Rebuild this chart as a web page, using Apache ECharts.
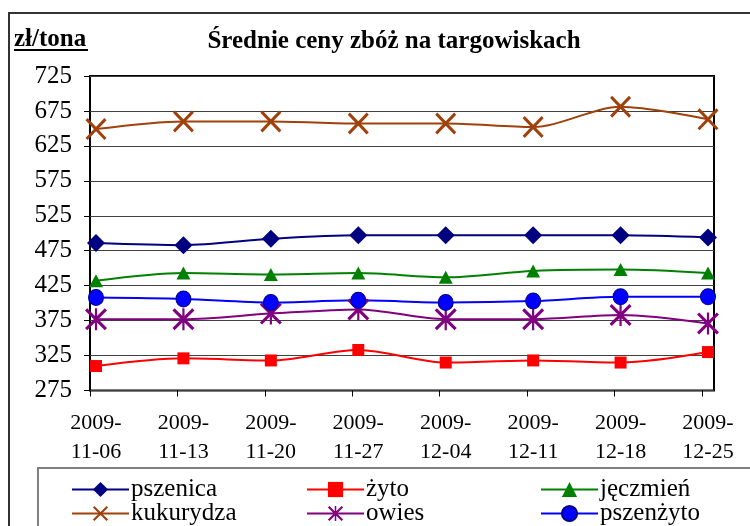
<!DOCTYPE html>
<html><head><meta charset="utf-8">
<script src="https://cdn.jsdelivr.net/npm/echarts@6/dist/echarts.min.js"></script>
<style>html,body{margin:0;padding:0;background:#fff}#c{width:750px;height:526px}</style>
</head><body><div id="c"></div>
<script>
const categories = ['2009-\n11-06','2009-\n11-13','2009-\n11-20','2009-\n11-27','2009-\n12-04','2009-\n12-11','2009-\n12-18','2009-\n12-25'];
const pszenica  = [486, 483, 492, 497, 497, 497, 497, 494];
const zyto      = [310, 321, 318, 333, 315, 318, 315, 330];
const jeczmien  = [432, 443, 441, 443, 437, 446, 448, 443];
const kukurydza = [649, 660, 660, 657, 657, 652, 681, 663];
const owies     = [377, 377, 385, 391, 377, 377, 383, 371];
const pszenzyto = [408, 406, 401, 404, 401, 403, 409, 409];
const yMin = 275, yMax = 725, yStep = 50;
const titleText = 'Średnie ceny zbóż na targowiskach';
const unitText = 'zł/tona';

const FONT = "'Liberation Serif', 'Times New Roman', serif";
const X_SYM = 'path://M0,1L1,0L10,9L9,10Z M9,0L10,1L1,10L0,9Z';
const STAR_SYM = 'path://M0,1L1,0L10,9L9,10Z M9,0L10,1L1,10L0,9Z M4.5,0L5.5,0L5.5,10L4.5,10Z';

const chart = echarts.init(document.getElementById('c'), null, {renderer:'canvas'});
const G = {top: 76, height: 314.5};
function mk(name, data, color, symbol, size, border) {
  return {
    name, type: 'line', data, xAxisIndex: 2, yAxisIndex: 2,
    smooth: 0.3, symbol, symbolSize: size, showSymbol: true,
    lineStyle: {color, width: 2},
    itemStyle: {color, borderColor: border || color, borderWidth: border ? 1 : 0, opacity: 1},
    emphasis: {disabled: true}, z: 5
  };
}
const legendBase = {
  orient: 'vertical', itemWidth: 57, itemHeight: 19, itemGap: -1, height: 100,
  textStyle: {fontFamily: FONT, fontSize: 25, color: '#000', lineHeight: 19, padding: [0,0,0,-3]},
  selectedMode: false, padding: 0
};
chart.setOption({
  animation: false,
  backgroundColor: '#fff',
  grid: [
    {left: 90, width: 624, top: G.top, height: G.height, show: true, borderColor: '#000', borderWidth: 2, backgroundColor: 'transparent'},
    {left: 90, width: 612, top: G.top, height: G.height},
    {left: 96, width: 612, top: G.top, height: G.height}
  ],
  xAxis: [
    {gridIndex: 0, type: 'category', data: categories, show: false},
    {gridIndex: 1, type: 'category', data: categories, boundaryGap: false,
     axisLine: {show: false}, axisTick: {show: true, length: 6, lineStyle: {color: '#000', width: 1}},
     axisLabel: {show: false}, splitLine: {show: false}},
    {gridIndex: 2, type: 'category', data: categories, boundaryGap: false,
     axisLine: {show: false}, axisTick: {show: false}, splitLine: {show: false},
     axisLabel: {fontFamily: FONT, fontSize: 22, color: '#000', lineHeight: 29, margin: 18, interval: 0}}
  ],
  yAxis: [
    {gridIndex: 0, type: 'value', min: yMin, max: yMax, interval: yStep,
     axisLine: {show: false}, axisTick: {show: true, length: 6, lineStyle: {color: '#000'}},
     axisLabel: {fontFamily: FONT, fontSize: 25, color: '#000', margin: 18},
     splitLine: {show: true, lineStyle: {color: '#404040', width: 1}}},
    {gridIndex: 1, type: 'value', min: yMin, max: yMax, interval: yStep, show: false},
    {gridIndex: 2, type: 'value', min: yMin, max: yMax, interval: yStep, show: false}
  ],
  legend: [
    Object.assign({}, legendBase, {left: 71, top: 477, data: ['pszenica','kukurydza']}),
    Object.assign({}, legendBase, {left: 306, top: 477, data: ['żyto','owies']}),
    Object.assign({}, legendBase, {left: 540, top: 477, data: ['jęczmień','pszenżyto']})
  ],
  graphic: [
    {type: 'rect', shape: {x: 9, y: 13, width: 760, height: 540}, style: {fill: 'none', stroke: '#333', lineWidth: 2}, z: -10, silent: true},
    {type: 'rect', shape: {x: 38, y: 468, width: 720, height: 80}, style: {fill: 'none', stroke: '#808080', lineWidth: 2}, z: -10, silent: true},
    {type: 'text', x: 394, y: 42, style: {text: titleText, font: 'bold 25px ' + FONT, fill: '#000', textAlign: 'center', textVerticalAlign: 'middle'}},
    {type: 'text', x: 14, y: 40, style: {text: unitText, font: 'bold 25px ' + FONT, fill: '#000', textAlign: 'left', textVerticalAlign: 'middle'}},
    {type: 'line', shape: {x1: 14, y1: 50, x2: 88, y2: 50}, style: {stroke: '#000', lineWidth: 2}}
  ],
  series: [
    mk('pszenica', pszenica, '#000080', 'diamond', [18, 18]),
    mk('żyto', zyto, '#FF0000', 'rect', [12, 12]),
    mk('jęczmień', jeczmien, '#008000', 'triangle', [14, 13]),
    mk('kukurydza', kukurydza, '#A0400A', X_SYM, [21, 22]),
    mk('owies', owies, '#800080', STAR_SYM, [22, 22]),
    mk('pszenżyto', pszenzyto, '#0000FF', 'circle', [15, 16], '#000080')
  ]
});
</script></body></html>
